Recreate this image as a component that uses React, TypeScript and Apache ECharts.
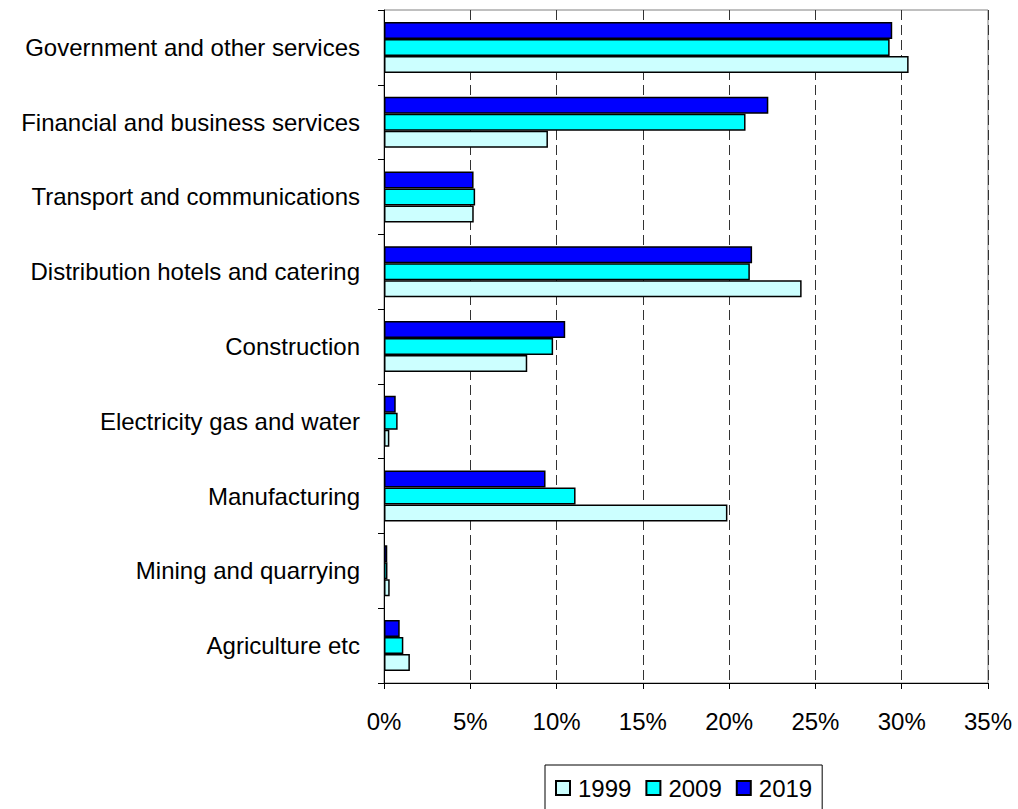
import React, { useEffect, useRef } from "react";
import * as echarts from "echarts";

const categories = [
  "Agriculture etc",
  "Mining and quarrying",
  "Manufacturing",
  "Electricity gas and water",
  "Construction",
  "Distribution hotels and catering",
  "Transport and communications",
  "Financial and business services",
  "Government and other services",
];
const years = ["1999", "2009", "2019"];
const values1999 = [1.5, 0.33, 19.9, 0.31, 8.3, 24.2, 5.2, 9.5, 30.4];
const values2009 = [1.12, 0.2, 11.1, 0.79, 9.8, 21.2, 5.28, 20.95, 29.3];
const values2019 = [0.91, 0.19, 9.36, 0.68, 10.5, 21.33, 5.19, 22.27, 29.45];
const xTicks = { min: 0, max: 35, interval: 5 };
const colors = ["#CCFFFF", "#00FFFF", "#0000FF"];

const FONT = "'Liberation Sans', Arial, sans-serif";

export default function App() {
  const ref = useRef<HTMLDivElement>(null);
  useEffect(() => {
    if (!ref.current) return;
    const chart = echarts.init(ref.current, undefined, { renderer: "svg" });
    const seriesData = [values1999, values2009, values2019];
    // ECharts places the first series at the top of each horizontal group,
    // so add them in reverse order (2019 on top, 1999 at the bottom).
    const order = [2, 1, 0];
    chart.setOption({
      animation: false,
      backgroundColor: "#ffffff",
      textStyle: { fontFamily: FONT },
      grid: {
        left: 384,
        right: 30,
        top: 10,
        bottom: 126,
        show: true,
        borderColor: "#808080",
        borderWidth: 1,
        containLabel: false,
      },
      legend: {
        left: 545,
        top: 765,
        orient: "horizontal",
        data: years,
        itemWidth: 14,
        itemHeight: 14,
        itemGap: 14,
        icon: "rect",
        padding: [11, 10, 12, 10],
        borderColor: "#000",
        borderWidth: 1,
        textStyle: {
          fontFamily: FONT,
          fontSize: 24,
          color: "#000",
          padding: [0, 0, 0, 3],
        },
      },
      xAxis: {
        type: "value",
        min: xTicks.min,
        max: xTicks.max,
        interval: xTicks.interval,
        axisLine: { show: true, lineStyle: { color: "#000", width: 1 } },
        axisTick: { show: true, length: 6, lineStyle: { color: "#000" } },
        axisLabel: {
          formatter: "{value}%",
          fontFamily: FONT,
          fontSize: 24,
          color: "#000",
          margin: 26,
        },
        splitLine: {
          show: true,
          lineStyle: { color: "#333", type: [10, 5], width: 1 },
        },
      },
      yAxis: {
        type: "category",
        data: categories,
        boundaryGap: true,
        axisLine: { show: true, lineStyle: { color: "#000", width: 1 } },
        axisTick: { show: true, length: 6, lineStyle: { color: "#000" } },
        axisLabel: {
          fontFamily: FONT,
          fontSize: 24,
          color: "#000",
          margin: 24,
        },
        splitLine: { show: false },
      },
      series: order.map((i) => ({
        name: years[i],
        type: "bar",
        data: seriesData[i],
        barWidth: 17,
        barGap: "0%",
        itemStyle: {
          color: colors[i],
          borderColor: "#000",
          borderWidth: 1.5,
        },
      })),
    });
    return () => chart.dispose();
  }, []);
  return (
    <div
      ref={ref}
      style={{ position: "absolute", left: 0, top: 0, width: 1018, height: 809 }}
    />
  );
}
